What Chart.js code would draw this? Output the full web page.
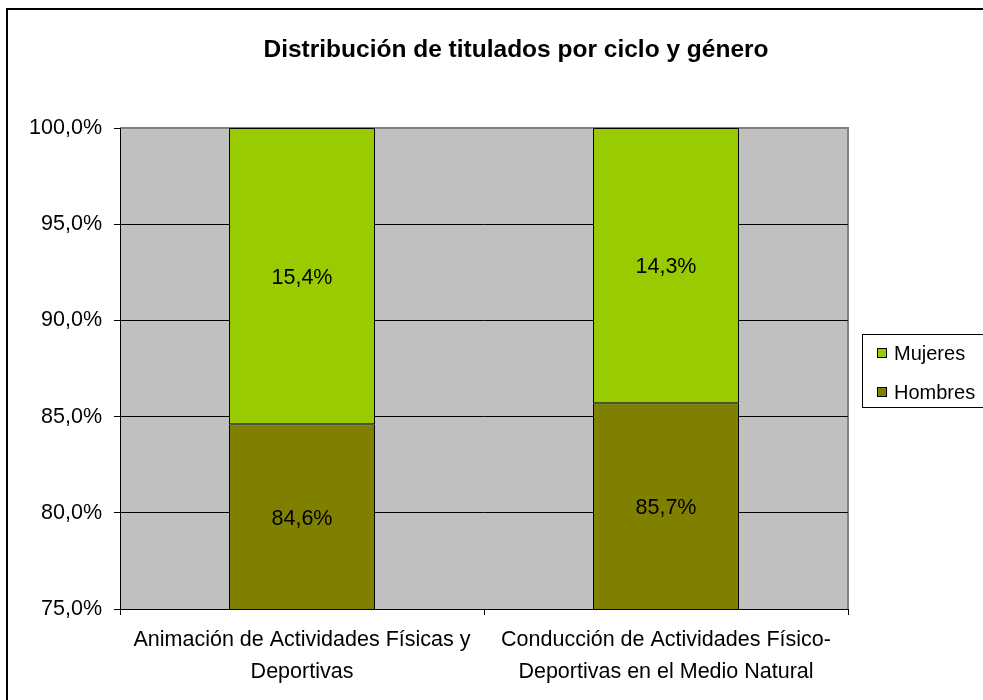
<!DOCTYPE html>
<html>
<head>
<meta charset="utf-8">
<script src="https://cdn.jsdelivr.net/npm/chart.js@4/dist/chart.umd.min.js"></script>
<style>
  html, body { margin: 0; padding: 0; background: #fff; }
  #wrap { width: 983px; height: 700px; }
</style>
</head>
<body>
<div id="wrap"><canvas id="myChart" width="983" height="700"></canvas></div>
<script>
// chart data
var chartTitle = 'Distribución de titulados por ciclo y género';
var ciclos = [
  ['Animación de Actividades Físicas y', 'Deportivas'],
  ['Conducción de Actividades Físico-', 'Deportivas en el Medio Natural']
];
var hombres = [84.6, 85.7];
var mujeres = [15.4, 14.3];
var yTicks = [75, 80, 85, 90, 95, 100];

var FONT = '"Liberation Sans", Arial, sans-serif';

function pct(v) {
  return v.toFixed(1).replace('.', ',') + '%';
}

// gray plot background + frame, title, border
var backgroundPlugin = {
  id: 'background',
  beforeDraw: function(chart) {
    var c = chart.ctx, a = chart.chartArea;
    c.save();
    c.fillStyle = '#fff';
    c.fillRect(0, 0, chart.width, chart.height);
    c.fillStyle = '#C0C0C0';
    c.fillRect(a.left, a.top, a.right - a.left, a.bottom - a.top);
    c.strokeStyle = '#808080';
    c.lineWidth = 2;
    c.beginPath();
    c.moveTo(a.left, a.top);
    c.lineTo(a.right, a.top);
    c.lineTo(a.right, a.bottom);
    c.stroke();
    // outer frame
    c.strokeStyle = '#000';
    c.lineWidth = 2;
    c.strokeRect(7, 9, 1200, 1200);
    // title
    c.fillStyle = '#000';
    c.font = 'bold 24.5px ' + FONT;
    c.textAlign = 'center';
    c.textBaseline = 'middle';
    c.fillText(chartTitle, 516, 50);
    c.restore();
  }
};

// value labels in the middle of each bar + legend box
var labelsPlugin = {
  id: 'valueLabels',
  afterDatasetsDraw: function(chart) {
    var c = chart.ctx, a = chart.chartArea;
    c.save();
    c.fillStyle = '#000';
    c.font = '21.5px ' + FONT;
    c.textAlign = 'center';
    c.textBaseline = 'middle';
    chart.data.datasets.forEach(function(ds, i) {
      var meta = chart.getDatasetMeta(i);
      meta.data.forEach(function(bar, j) {
        var top = Math.max(bar.y, a.top);
        var base = Math.min(bar.base, a.bottom);
        c.fillText(pct(ds.data[j]), bar.x, (top + base) / 2 + 2);
      });
    });

    // legend (Mujeres on top)
    c.fillStyle = '#fff';
    c.fillRect(862, 334, 200, 73);
    c.strokeStyle = '#000';
    c.lineWidth = 1;
    c.strokeRect(862.5, 334.5, 200, 73);
    var items = chart.data.datasets.slice().reverse();
    c.font = '20px ' + FONT;
    c.textAlign = 'left';
    items.forEach(function(ds, k) {
      var y = 353 + k * 39;
      c.fillStyle = ds.backgroundColor;
      c.fillRect(877, y - 5, 10, 10);
      c.strokeRect(877.5, y - 4.5, 9, 9);
      c.fillStyle = '#000';
      c.fillText(ds.label, 894, y + 1);
    });
    c.restore();
  }
};

var ctx = document.getElementById('myChart').getContext('2d');
var chart = new Chart(ctx, {
  type: 'bar',
  data: {
    labels: ciclos,
    datasets: [{
      label: 'Hombres',
      data: hombres,
      backgroundColor: '#808000',
      borderColor: '#000',
      borderWidth: 1,
      borderSkipped: false
    }, {
      label: 'Mujeres',
      data: mujeres,
      backgroundColor: '#99CC00',
      borderColor: '#000',
      borderWidth: 1,
      borderSkipped: false
    }]
  },
  options: {
    responsive: false,
    animation: false,
    layout: { padding: { left: 0, right: 135, top: 128, bottom: 0 } },
    plugins: {
      legend: { display: false },
      title: { display: false },
      tooltip: { enabled: false }
    },
    datasets: {
      bar: { categoryPercentage: 1, barPercentage: 0.401 }
    },
    scales: {
      x: {
        stacked: true,
        offset: true,
        afterFit: function(s) { s.height = 91; },
        grid: {
          offset: true,
          drawOnChartArea: false,
          color: '#000',
          tickLength: 6
        },
        border: { color: '#000', width: 1 },
        ticks: {
          color: '#000',
          padding: 9,
          maxRotation: 0,
          autoSkip: false,
          font: { family: FONT, size: 21.5, lineHeight: 1.5 }
        }
      },
      y: {
        stacked: true,
        min: yTicks[0],
        max: yTicks[yTicks.length - 1],
        afterFit: function(s) { s.width = 120; },
        afterBuildTicks: function(s) {
          s.ticks = yTicks.map(function(v) { return { value: v }; });
        },
        grid: {
          color: function(c) { return c.tick && c.tick.value === 100 ? 'rgba(0,0,0,0)' : '#000'; },
          tickColor: '#000',
          tickLength: 6
        },
        border: { color: '#000', width: 1 },
        ticks: {
          color: '#000',
          padding: 12,
          font: { family: FONT, size: 21.5 },
          callback: function(v) { return pct(v); }
        }
      }
    }
  },
  plugins: [backgroundPlugin, labelsPlugin]
});
</script>
</body>
</html>
